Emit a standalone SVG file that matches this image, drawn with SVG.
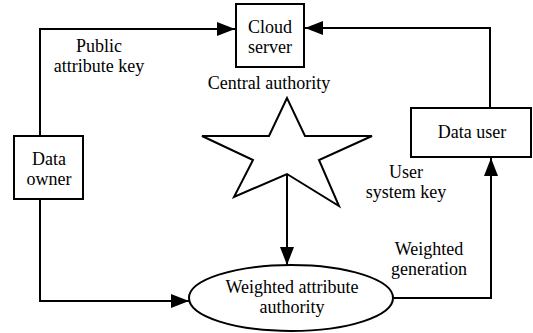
<svg xmlns="http://www.w3.org/2000/svg" width="533" height="333" viewBox="0 0 533 333">
<defs>
<marker id="arr" markerUnits="userSpaceOnUse" markerWidth="18" markerHeight="14" refX="18" refY="7" orient="auto">
<path d="M0,0 L18,7 L0,14 Z" fill="#000"/>
</marker>
<style>
.box{fill:#fff;stroke:#000;stroke-width:2}
.ln{fill:none;stroke:#000;stroke-width:2}
.t{font-size:18px;fill:#000;text-anchor:middle}
</style>
</defs>
<rect width="533" height="333" fill="#fff"/>
<g id="connectors">
<polyline class="ln" points="40,136 40,29 235,29" marker-end="url(#arr)"/>
<polyline class="ln" points="40,199 40,301 189,301" marker-end="url(#arr)"/>
<polyline class="ln" points="287,174 287,265" marker-end="url(#arr)"/>
<polyline class="ln" points="393,298 491,298 491,158" marker-end="url(#arr)"/>
<polyline class="ln" points="490,108 490,28 305,28" marker-end="url(#arr)"/>
</g>
<g font-family="'Liberation Serif', Tinos, 'Times New Roman', 'DejaVu Serif', serif">
<g id="cloud-server">
<rect class="box" x="236" y="4" width="68" height="63"/>
<text class="t" x="270" y="33">Cloud</text>
<text class="t" x="270" y="53">server</text>
</g>
<g id="central-authority">
<polygon class="ln" fill="#fff" points="287,98 269,136 202,136 253,160 234,197 287,174 339,206 319,160 372,136 305,136"/>
<text class="t" x="269" y="89">Central authority</text>
</g>
<g id="data-owner">
<rect class="box" x="14" y="136" width="69" height="63"/>
<text class="t" x="49" y="165">Data</text>
<text class="t" x="49" y="185">owner</text>
</g>
<g id="data-user">
<rect class="box" x="411" y="108" width="120" height="49"/>
<text class="t" x="472" y="138">Data user</text>
</g>
<g id="weighted-attribute-authority">
<ellipse class="box" cx="291" cy="298" rx="102" ry="33"/>
<text class="t" x="292" y="293">Weighted attribute</text>
<text class="t" x="292" y="313">authority</text>
</g>
<g id="labels">
<text class="t" x="99" y="52">Public</text>
<text class="t" x="99" y="72">attribute key</text>
<text class="t" x="406" y="178">User</text>
<text class="t" x="406" y="198">system key</text>
<text class="t" x="429" y="255">Weighted</text>
<text class="t" x="429" y="275">generation</text>
</g>
</g>
</svg>
